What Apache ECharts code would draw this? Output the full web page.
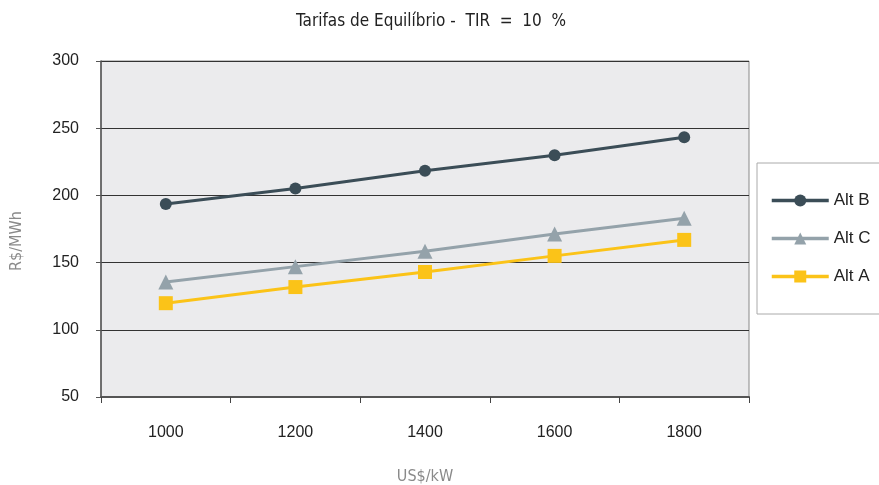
<!DOCTYPE html>
<html>
<head>
<meta charset="utf-8">
<script src="https://cdn.jsdelivr.net/npm/echarts@6/dist/echarts.min.js"></script>
<style>html,body{margin:0;padding:0;background:#fff}#c{width:879px;height:485px}</style>
</head>
<body>
<div id="c"></div>
<script>
const categories = ['1000', '1200', '1400', '1600', '1800'];
const altB = [193.6, 205.2, 218.4, 229.9, 243.3];
const altC = [135.5, 147, 158.4, 171.3, 183];
const altA = [119.8, 131.8, 143, 155, 166.9];
const yTicks = { min: 50, max: 300, interval: 50 };

const chart = echarts.init(document.getElementById('c'));
const baseFont = "'Liberation Sans', 'Noto Sans', sans-serif";
const narrowFont = "'Liberation Sans Narrow', 'DejaVu Sans Condensed', sans-serif";
chart.setOption({
  animation: false,
  backgroundColor: '#ffffff',
  title: {
    text: 'Tarifas de Equilíbrio -  TIR  =  10  %',
    left: 426, top: 8, textAlign: 'center',
    textStyle: { fontFamily: narrowFont, fontSize: 17, fontWeight: 'normal', color: '#222' }
  },
  grid: { left: 101, top: 61, width: 648, height: 336, show: true, backgroundColor: '#ebebed', borderColor: '#888', borderWidth: 1, containLabel: false, outerBoundsMode: 'none' },
  legend: {
    orient: 'vertical', left: 757, top: 163,
    padding: [29, 30, 29, 13],
    itemWidth: 57, itemHeight: 15, itemGap: 21,
    borderColor: '#aaa', borderWidth: 1, backgroundColor: '#fff',
    lineStyle: { width: 3.5 },
    textStyle: { fontFamily: baseFont, fontSize: 17, color: '#222' },
    data: ['Alt B', 'Alt C', 'Alt A']
  },
  xAxis: {
    type: 'category', data: categories, boundaryGap: true,
    name: 'US$/kW', nameLocation: 'middle', nameGap: 72,
    nameTextStyle: { fontFamily: narrowFont, fontSize: 16, color: '#8a8a8a' },
    axisLine: { lineStyle: { color: '#555', width: 2 } },
    axisTick: { show: true, length: 6, lineStyle: { color: '#444' } },
    axisLabel: { margin: 28, fontFamily: baseFont, fontSize: 16, color: '#222' },
    splitLine: { show: false }
  },
  yAxis: {
    type: 'value', min: yTicks.min, max: yTicks.max, interval: yTicks.interval,
    name: 'R$/MWh', nameLocation: 'middle', nameGap: 76, nameRotate: 90,
    nameTextStyle: { fontFamily: narrowFont, fontSize: 16, color: '#8a8a8a', padding: [0, 24, 0, 0] },
    axisLine: { show: true, lineStyle: { color: '#555', width: 1.5 } },
    axisTick: { show: true, length: 5, lineStyle: { color: '#555' } },
    axisLabel: { margin: 22, fontFamily: baseFont, fontSize: 16, color: '#222' },
    splitLine: { show: true, lineStyle: { color: '#333', width: 1 } }
  },
  series: [
    { name: 'Alt B', type: 'line', data: altB, symbol: 'circle', symbolSize: 12,
      lineStyle: { color: '#3b4d57', width: 3 }, itemStyle: { color: '#3b4d57' } },
    { name: 'Alt C', type: 'line', data: altC, symbol: 'triangle', symbolSize: 15,
      lineStyle: { color: '#94a2aa', width: 3 }, itemStyle: { color: '#94a2aa' } },
    { name: 'Alt A', type: 'line', data: altA, symbol: 'rect', symbolSize: 14,
      lineStyle: { color: '#fbc318', width: 3 }, itemStyle: { color: '#fbc318' } }
  ]
});
</script>
</body>
</html>
